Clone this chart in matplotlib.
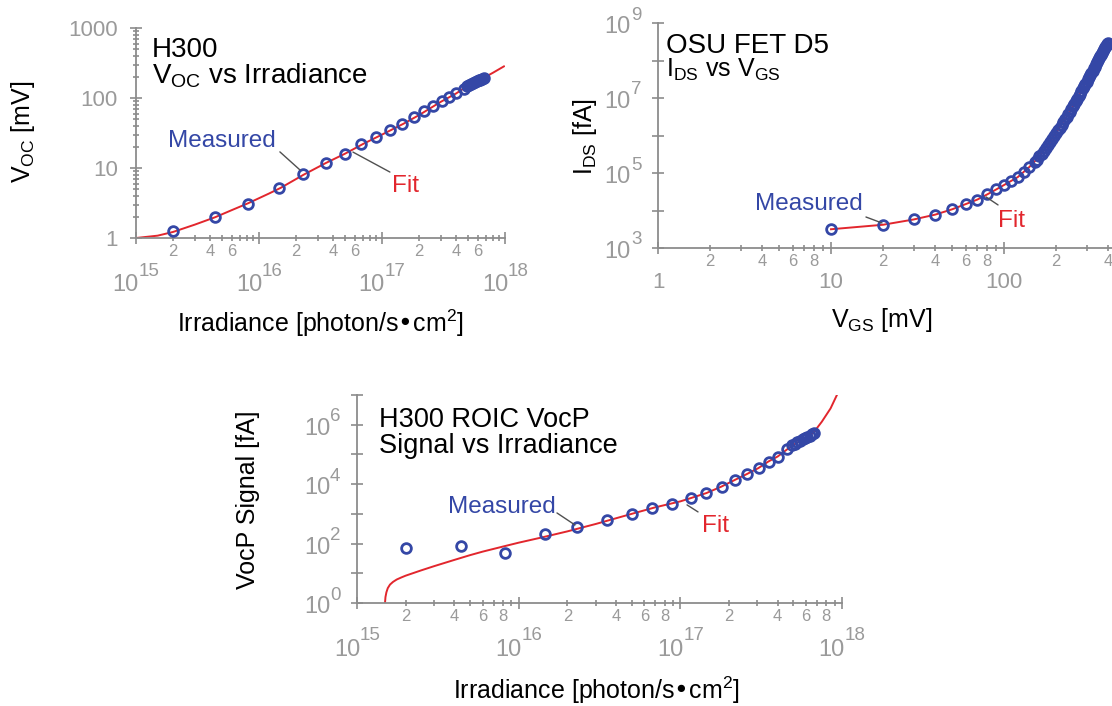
"""
Three log-log panels: H300 Voc vs irradiance, OSU FET D5 I_DS vs V_GS,
and H300 ROIC VocP signal vs irradiance (measured points + fit curves).
"""
import numpy as np
import matplotlib
matplotlib.use("Agg")
import matplotlib.pyplot as plt
from matplotlib.ticker import FuncFormatter, LogLocator, NullLocator, NullFormatter

plt.rcParams.update({"font.family": ["Liberation Sans", "DejaVu Sans"],
                     "mathtext.default": "regular"})

W, H = 1112, 706
BLUE = "#3447a6"
RED = "#e2262d"
GRAY = "#8c8c8c"
TICK_TXT = "#9a9a9a"
LEADER = "#505050"

# ---------------------------------------------------------------
# Data
# ---------------------------------------------------------------
# irradiance steps [photon/s cm^2], shared by panels 1 and 3
irradiance = [2.0e15, 4.4e15, 8.2e15, 1.45e16, 2.3e16, 3.5e16, 5.0e16, 6.7e16,
              8.9e16, 1.16e17, 1.45e17, 1.81e17, 2.18e17, 2.6e17, 3.05e17,
              3.52e17, 4.0e17, 4.6e17, 4.9e17, 5.1e17, 5.3e17, 5.5e17, 5.7e17,
              5.9e17, 6.1e17, 6.3e17, 6.5e17, 6.7e17]

voc_mv = [1.26, 2.0, 3.1, 5.1, 8.2, 11.9, 15.9, 22, 27.7, 35, 42.6, 53, 65, 77,
          91, 105, 117, 133, 148, 153, 158, 163, 168, 173, 178, 183, 188, 192]

voc_fit_x = [1.0e15, 1.5e15, 2.0e15, 3.0e15, 4.4e15, 6.0e15, 8.2e15, 1.2e16,
             1.5e16, 2.3e16, 3.5e16, 5.0e16, 7.0e16, 1.0e17, 1.5e17, 2.0e17,
             3.0e17, 4.0e17, 5.0e17, 6.5e17, 8.0e17, 9.8e17]
voc_fit_y = [1.0, 1.08, 1.22, 1.55, 1.98, 2.5, 3.15, 4.3, 5.2, 8.0, 11.8, 16,
             22, 30, 43, 57, 88, 116, 150, 188, 230, 283]

vgs_mv = [10, 20, 30, 40, 50, 60, 70, 80, 90, 100,
          110, 120, 130, 140, 150,
          155, 160, 165, 170, 175, 180, 185, 190, 195, 200,
          205, 210, 215, 220, 225, 230, 235, 240, 245, 250,
          255, 260, 265, 270, 275, 280, 285, 290, 295, 300,
          305, 310, 315, 320, 325, 330, 335, 340, 345, 350,
          355, 360, 365, 370, 375, 380, 385, 390, 395, 400]
ids_log10 = [3.50, 3.61, 3.77, 3.88, 4.03, 4.17, 4.28, 4.43, 4.57, 4.68,
             4.78, 4.89, 5.02, 5.16, 5.29,
             5.36, 5.44, 5.52, 5.59, 5.67, 5.75, 5.83, 5.91, 5.99, 6.07,
             6.14, 6.21, 6.28, 6.35, 6.43, 6.50, 6.57, 6.64, 6.71, 6.78,
             6.85, 6.91, 6.98, 7.05, 7.12, 7.19, 7.26, 7.32, 7.38, 7.44,
             7.50, 7.56, 7.62, 7.68, 7.73, 7.79, 7.84, 7.90, 7.95, 8.01,
             8.06, 8.11, 8.16, 8.21, 8.26, 8.30, 8.35, 8.39, 8.43, 8.47]

ids_fit_v = [10, 20, 30, 40, 50, 60, 70, 80, 90, 100, 120, 140, 160, 180, 200,
             250, 300, 350, 400]
ids_fit_log10 = [3.50, 3.62, 3.76, 3.89, 4.03, 4.17, 4.29, 4.43, 4.56, 4.68,
                 4.89, 5.16, 5.44, 5.75, 6.07, 6.78, 7.44, 8.01, 8.47]

signal_fa = [69, 85, 49, 210, 370, 620, 1000, 1550, 2150, 3350, 4900, 8300,
             13900, 22000, 34000, 57000, 85000, 150000, 210000, 230000, 260000,
             290000, 320000, 350000, 390000, 430000, 480000, 520000]

signal_fit_x = [1.49e15, 1.50e15, 1.52e15, 1.55e15, 1.60e15, 1.67e15, 1.76e15,
                1.88e15, 2.0e15, 2.5e15, 3.0e15, 4.0e15, 5.0e15, 6.0e15, 8.0e15,
                1.0e16, 1.4e16, 2.0e16, 3.0e16, 5.0e16, 7.0e16, 1.0e17, 1.16e17,
                1.45e17, 1.8e17, 2.17e17, 2.58e17, 3.04e17, 3.5e17, 4.0e17,
                4.6e17, 5.0e17, 6.1e17, 6.7e17, 7.5e17, 8.5e17, 9.3e17]
signal_fit_log10 = [0.0, 0.2, 0.36, 0.5, 0.62, 0.71, 0.79,
                    0.86, 0.92, 1.10, 1.24, 1.45, 1.61, 1.73, 1.90,
                    2.03, 2.21, 2.41, 2.66, 3.0, 3.22, 3.42, 3.53,
                    3.70, 3.92, 4.14, 4.34, 4.54, 4.76, 4.93,
                    5.18, 5.32, 5.60, 5.75, 6.10, 6.55, 7.0]

fig = plt.figure(figsize=(W / 100, H / 100), dpi=100)


def axes_px(left, top, right, bottom):
    return fig.add_axes([left / W, 1 - bottom / H, (right - left) / W, (bottom - top) / H])


def text_px(x, y, s, **kw):
    fig.text(x / W, 1 - y / H, s, **kw)


def style(ax):
    ax.set_xscale("log")
    ax.set_yscale("log")
    ax.patch.set_alpha(0)
    for s in ("top", "right"):
        ax.spines[s].set_visible(False)
    for s in ("left", "bottom"):
        ax.spines[s].set_color(GRAY)
        ax.spines[s].set_linewidth(1.3)
    ax.tick_params(which="both", direction="inout", color=GRAY, width=1.2,
                   labelcolor=TICK_TXT)
    ax.tick_params(which="major", length=8, labelsize=16)
    ax.tick_params(which="minor", length=4.5, labelsize=12)
    ax.tick_params(axis="x", which="minor", pad=1.8)
    ax.tick_params(axis="y", which="major", pad=9)


def minor_x(ax, shown):
    def fmt(v, pos):
        m = int(round(v / 10 ** np.floor(np.log10(v) + 1e-9)))
        return str(m) if m in shown else ""
    ax.xaxis.set_minor_locator(LogLocator(base=10, subs=range(2, 10), numticks=20))
    ax.xaxis.set_minor_formatter(FuncFormatter(fmt))


def power_labels(ax, exps, axis):
    for e in exps:
        if axis == "x":
            xy, xc = (10.0 ** e, 0), ("data", "axes fraction")
            base_off, exp_off = (3, -47), (3, -33)
        else:
            xy, xc = (0, 10.0 ** e), ("axes fraction", "data")
            base_off, exp_off = (-27, -4), (-27, 8)
        ax.annotate("10", xy=xy, xycoords=xc, xytext=base_off, textcoords="offset pixels",
                    ha="right", va="center", fontsize=17, color=TICK_TXT, annotation_clip=False)
        ax.annotate(str(e), xy=xy, xycoords=xc, xytext=exp_off, textcoords="offset pixels",
                    ha="left", va="center", fontsize=13.5, color=TICK_TXT, annotation_clip=False)


def leader(ax, xy, off):
    ax.annotate("", xy=xy, xytext=off, textcoords="offset pixels",
                arrowprops=dict(arrowstyle="-", color=LEADER, lw=1, shrinkA=0, shrinkB=0))


mk = dict(ls="none", marker="o", ms=7, mfc="none", mec=BLUE, mew=2.0, zorder=3)

# ---------------------------------------------------------------
# Panel 1: Voc vs irradiance
# ---------------------------------------------------------------
ax1 = axes_px(136, 28, 505, 238)
style(ax1)
ax1.plot(voc_fit_x, voc_fit_y, color=RED, lw=1.4, zorder=2)
ax1.plot(irradiance, voc_mv, **mk)
ax1.set_xlim(1e15, 1e18)
ax1.set_ylim(1, 1000)
ax1.set_yticks([1, 10, 100, 1000], ["1", "10", "100", "1000"])
ax1.yaxis.set_minor_locator(LogLocator(base=10, subs=range(2, 10), numticks=20))
ax1.yaxis.set_minor_formatter(NullFormatter())
ax1.set_xticks([1e15, 1e16, 1e17, 1e18], ["", "", "", ""])
minor_x(ax1, (2, 4, 6))
power_labels(ax1, [15, 16, 17, 18], "x")
leader(ax1, (2.15e16, 9.4), (-20, 18))
leader(ax1, (5.8e16, 16.9), (37, -20))

text_px(152, 57, "H300", fontsize=20, va="baseline")
text_px(152, 83, "V$_{OC}$ vs Irradiance", fontsize=20, va="baseline")
text_px(222, 147, "Measured", fontsize=17.5, color=BLUE, ha="center", va="baseline")
text_px(405, 192, "Fit", fontsize=17.5, color=RED, ha="center", va="baseline")
text_px(23, 132, "V$_{OC}$ [mV]", fontsize=18, rotation=90, ha="center", va="center")
text_px(320, 323, "Irradiance [photon/s•cm$^2$]", fontsize=18, ha="center", va="center")

# ---------------------------------------------------------------
# Panel 2: I_DS vs V_GS
# ---------------------------------------------------------------
ax2 = axes_px(658, 23, 1112, 248)
style(ax2)
ax2.plot(ids_fit_v, 10.0 ** np.array(ids_fit_log10), color=RED, lw=1.4, zorder=2)
ax2.plot(vgs_mv, 10.0 ** np.array(ids_log10), **mk)
ax2.set_xlim(1, 10 ** 2.624)
ax2.set_ylim(1e3, 1e9)
ax2.set_xticks([1, 10, 100], ["1", "10", "100"])
ax2.tick_params(axis="x", which="major", pad=13.5)
minor_x(ax2, (2, 4, 6, 8))
ax2.set_yticks([10.0 ** k for k in range(3, 10)], [""] * 7)
ax2.yaxis.set_minor_locator(NullLocator())
power_labels(ax2, [3, 5, 7, 9], "y")
leader(ax2, (19.7, 4640), (-16, 6))
leader(ax2, (78.7, 23000), (12, -8))

text_px(666, 53, "OSU FET D5", fontsize=20, va="baseline")
text_px(666, 77, "I$_{DS}$ vs V$_{GS}$", fontsize=18, va="baseline")
text_px(809, 210, "Measured", fontsize=17.5, color=BLUE, ha="center", va="baseline")
text_px(1012, 227, "Fit", fontsize=17.5, color=RED, ha="center", va="baseline")
text_px(585, 137, "I$_{DS}$ [fA]", fontsize=18, rotation=90, ha="center", va="center")
text_px(882, 320, "V$_{GS}$ [mV]", fontsize=18, ha="center", va="center")

# ---------------------------------------------------------------
# Panel 3: VocP signal vs irradiance
# ---------------------------------------------------------------
ax3 = axes_px(357, 395, 842, 603)
style(ax3)
ax3.plot(signal_fit_x, 10.0 ** np.array(signal_fit_log10), color=RED, lw=1.4, zorder=2)
ax3.plot(irradiance, signal_fa, **mk)
ax3.set_xlim(1e15, 1e18)
ax3.set_ylim(1, 1e7)
ax3.set_xticks([1e15, 1e16, 1e17, 1e18], ["", "", "", ""])
minor_x(ax3, (2, 4, 6, 8))
power_labels(ax3, [15, 16, 17, 18], "x")
ax3.set_yticks([10.0 ** k for k in range(0, 8)], [""] * 8)
ax3.yaxis.set_minor_locator(NullLocator())
power_labels(ax3, [0, 2, 4, 6], "y")
leader(ax3, (2.23e16, 423), (-18, 12))
leader(ax3, (1.1e17, 2000), (11, -7))

text_px(379, 427, "H300 ROIC VocP", fontsize=19.5, va="baseline")
text_px(379, 453, "Signal vs Irradiance", fontsize=19.5, va="baseline")
text_px(502, 513, "Measured", fontsize=17.5, color=BLUE, ha="center", va="baseline")
text_px(715, 532, "Fit", fontsize=17.5, color=RED, ha="center", va="baseline")
text_px(248, 500, "VocP Signal [fA]", fontsize=18, rotation=90, ha="center", va="center")
text_px(596, 690, "Irradiance [photon/s•cm$^2$]", fontsize=18, ha="center", va="center")

fig.savefig("out.png", dpi=100)
plt.close(fig)
